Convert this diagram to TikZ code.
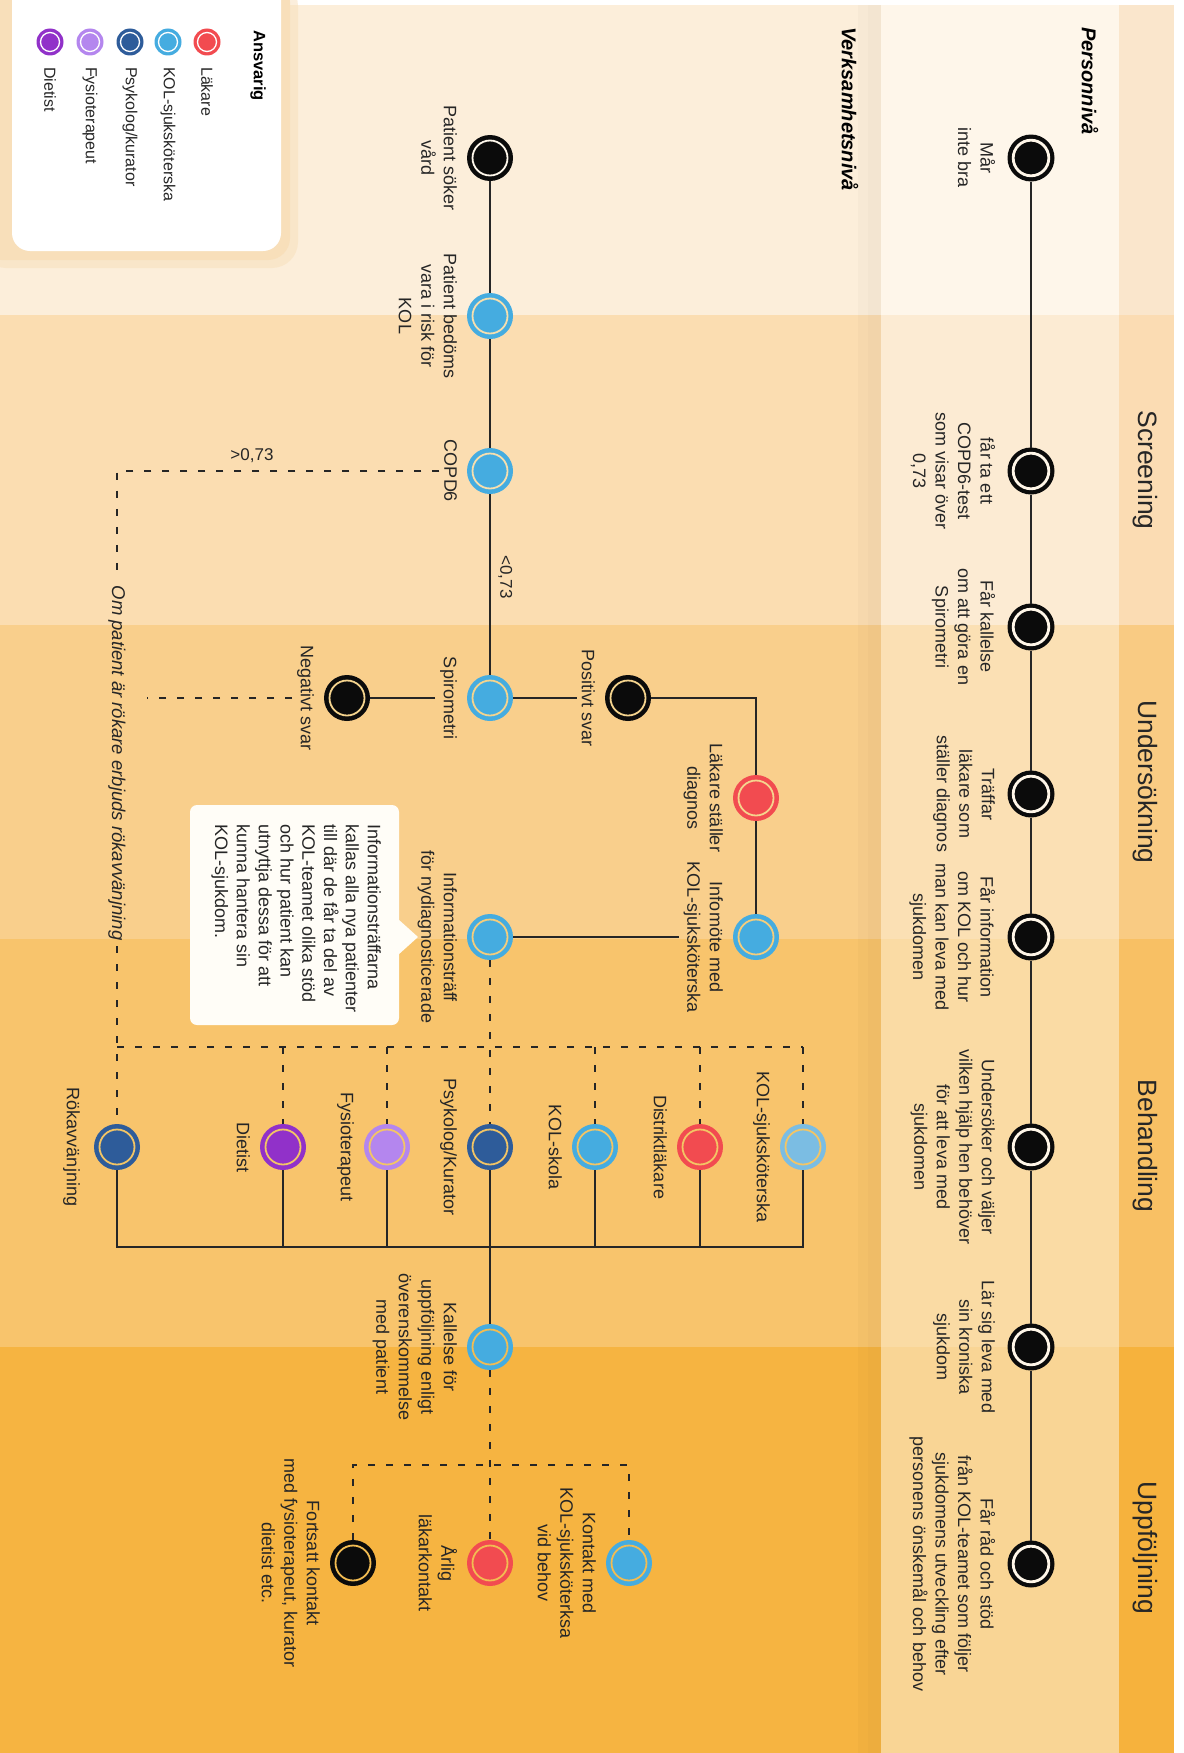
\documentclass[tikz,border=0pt]{standalone}
\usepackage{fontspec}
\setmainfont{Liberation Sans}

% background bands: left area, person panel, phase header column
\definecolor{bandA}{HTML}{FCEEDA}
\definecolor{bandS}{HTML}{FBDDB1}
\definecolor{bandU}{HTML}{F9CF8C}
\definecolor{bandB}{HTML}{F8C46C}
\definecolor{bandF}{HTML}{F6B441}
\definecolor{panA}{HTML}{FEF6EA}
\definecolor{panS}{HTML}{FCEBD3}
\definecolor{panU}{HTML}{FBE0B4}
\definecolor{panB}{HTML}{FADBA4}
\definecolor{panF}{HTML}{F9D595}
\definecolor{hdA}{HTML}{FAE6CC}
\definecolor{hdS}{HTML}{FBDCB3}
\definecolor{hdU}{HTML}{F9CB83}
\definecolor{hdB}{HTML}{F8C064}
\definecolor{hdF}{HTML}{F6B23D}
\definecolor{halo}{HTML}{F8DFBA}
\definecolor{callfill}{HTML}{FFFDF7}
% role colours
\definecolor{nblack}{HTML}{0B0B0B}
\definecolor{cblue}{HTML}{45ACE0}
\definecolor{clblue}{HTML}{7BBDE3}
\definecolor{cred}{HTML}{F24B50}
\definecolor{cdblue}{HTML}{2E5C9A}
\definecolor{clav}{HTML}{B486EE}
\definecolor{cpurp}{HTML}{9131C9}
% inner ring colours
\definecolor{ringP}{HTML}{FFF6E8}
\definecolor{ringA}{HTML}{FFF8EC}
\definecolor{ringS}{HTML}{F7DFAE}
\definecolor{ringU}{HTML}{F5D48E}
\definecolor{ringUB}{HTML}{F5CD7C}
\definecolor{ringB}{HTML}{F3C565}
\definecolor{ringF}{HTML}{F2BC52}
\definecolor{ink}{HTML}{262626}

\begin{document}
\begin{tikzpicture}[
  x=1pt, y=-1pt,
  stage/.style 2 args={circle, minimum size=46pt, inner sep=0pt, outer sep=0pt, fill=#1,
     path picture={\draw[#2, line width=1.8pt] (path picture bounding box.center) circle (17.5pt);}},
  pstage/.style={circle, minimum size=47pt, inner sep=0pt, outer sep=0pt, fill=nblack,
     path picture={\draw[ringP, line width=2.8pt] (path picture bounding box.center) circle (17.8pt);}},
  legdot/.style={circle, minimum size=27pt, inner sep=0pt, fill=#1,
     path picture={\draw[white, line width=1.3pt] (path picture bounding box.center) circle (9.5pt);}},
  lbl/.style={rotate=-90, anchor=north, align=center, inner sep=0pt, outer sep=5pt,
     font=\fontsize{18}{22.5}\selectfont, text=ink},
  leglbl/.style={rotate=-90, anchor=west, inner sep=0pt, font=\fontsize{16}{19}\selectfont, text=ink},
  phase/.style={rotate=-90, inner sep=0pt, font=\fontsize{26.5}{30}\selectfont, text=ink},
  level/.style={rotate=-90, anchor=west, inner sep=0pt, font=\fontsize{20}{24}\selectfont\bfseries\itshape, text=black},
  flow/.style={draw=ink, line width=2.2pt},
  optional/.style={draw=ink, line width=2.4pt, dash pattern=on 7pt off 11pt},
]
\useasboundingbox (0,0) rectangle (1183,1753);

% ---------- background bands ----------
\foreach \ya/\cl/\cp/\ch in {0/bandA/panA/hdA, 315/bandS/panS/hdS, 625/bandU/panU/hdU,
                             939/bandB/panB/hdB, 1347/bandF/panF/hdF} {
  \fill[\cl] (0,\ya) rectangle (881,1753);
  \fill[\cp] (881,\ya) rectangle (1119,1753);
  \fill[\ch] (1119,\ya) rectangle (1174,1753);
}
% soft shadow beside the person panel
\fill[black, opacity=0.02] (858,0) rectangle (881,1753);
\fill[black, opacity=0.015] (868,0) rectangle (881,1753);
\fill[white] (1174,0) rectangle (1183,1753);
\fill[white] (0,0) rectangle (1183,5);

% ---------- legend ----------
\fill[halo, opacity=0.5, rounded corners=26pt] (-20,-20) rectangle (298,268);
\fill[halo, rounded corners=22pt] (-20,-20) rectangle (290,260);
\fill[white, rounded corners=18pt] (12,-20) rectangle (281,251);
\node[rotate=-90, anchor=west, inner sep=0pt, font=\fontsize{16.5}{20}\selectfont\bfseries, text=black] (ansv) at (258,30) {Ansvarig};
\node[legdot=cred]   (lg1) at (207,42) {};
\node[legdot=cblue]  (lg2) at (168,42) {};
\node[legdot=cdblue] (lg3) at (130,42) {};
\node[legdot=clav]   (lg4) at (90,42) {};
\node[legdot=cpurp]  (lg5) at (50,42) {};
\node[leglbl] (lt1) at (207,67) {Läkare};
\node[leglbl] (lt2) at (168,67) {KOL-sjuksköterska};
\node[leglbl] (lt3) at (130,67) {Psykolog/kurator};
\node[leglbl] (lt4) at (90,67) {Fysioterapeut};
\node[leglbl] (lt5) at (50,67) {Dietist};

% ---------- headings ----------
\node[level] (lvP) at (1090,27) {Personnivå};
\node[level] (lvV) at (850,27) {Verksamhetsnivå};
\node[phase] (hs) at (1145,470) {Screening};
\node[phase] (hu) at (1145,782) {Undersökning};
\node[phase] (hb) at (1145,1146) {Behandling};
\node[phase] (hf) at (1145,1548) {Uppföljning};

% ---------- person level ----------
\node[pstage] (p1) at (1031,158) {};
\node[pstage] (p2) at (1031,471) {};
\node[pstage] (p3) at (1031,627) {};
\node[pstage] (p4) at (1031,794) {};
\node[pstage] (p5) at (1031,937) {};
\node[pstage] (p6) at (1031,1147) {};
\node[pstage] (p7) at (1031,1347) {};
\node[pstage] (p8) at (1031,1564) {};
\foreach \a/\b in {p1/p2,p2/p3,p3/p4,p4/p5,p5/p6,p6/p7,p7/p8}
  \draw[flow] (\a) -- (\b);
\node[lbl] (lp1) at (1000,158) {Mår\\inte bra};
\node[lbl] (lp2) at (1000,471) {får ta ett\\COPD6-test\\som visar över\\0,73};
\node[lbl] (lp3) at (1000,627) {Får kallelse\\om att göra en\\Spirometri};
\node[lbl] (lp4) at (1000,794) {Träffar\\läkare som\\ställer diagnos};
\node[lbl] (lp5) at (1000,937) {Får information\\om KOL och hur\\man kan leva med\\sjukdomen};
\node[lbl] (lp6) at (1000,1147) {Undersöker och väljer\\vilken hjälp hen behöver\\för att leva med\\sjukdomen};
\node[lbl] (lp7) at (1000,1347) {Lär sig leva med\\sin kroniska\\sjukdom};
\node[lbl] (lp8) at (1000,1564) {Får råd och stöd\\från KOL-teamet som följer\\sjukdomens utveckling efter\\personens önskemål och behov};

% ---------- care organisation level ----------
\node[stage={nblack}{ringA}]  (v1)    at (490,158) {};
\node[stage={cblue}{ringS}]   (v2)    at (490,316) {};
\node[stage={cblue}{ringS}]   (copd)  at (490,471) {};
\node[stage={cblue}{ringU}]   (spiro) at (490,698) {};
\node[stage={nblack}{ringU}]  (pos)   at (628,698) {};
\node[stage={nblack}{ringU}]  (neg)   at (347,698) {};
\node[stage={cred}{ringU}]    (lak)   at (756,798) {};
\node[stage={cblue}{ringUB}]  (infm)  at (756,937) {};
\node[stage={cblue}{ringUB}]  (itraff) at (490,937) {};

\node[lbl] (lv1)    at (462,158) {Patient söker\\vård};
\node[lbl] (lv2)    at (462,316) {Patient bedöms\\vara i risk för\\KOL};
\node[lbl] (lcopd)  at (462,471) {COPD6};
\node[lbl] (lspiro) at (462,698) {Spirometri};
\node[lbl] (lpos)   at (600,698) {Positivt svar};
\node[lbl] (lneg)   at (319,698) {Negativt svar};
\node[lbl] (llak)   at (728,798) {Läkare ställer\\diagnos};
\node[lbl] (linfm)  at (728,937) {Infomöte med\\KOL-sjuksköterska};
\node[lbl] (litraff) at (462,937) {Informationsträff\\för nydiagnosticerade};

\node[font=\fontsize{17}{20}\selectfont, text=ink, inner sep=0pt] (gt) at (252,456) {>0,73};
\node[rotate=-90, anchor=south, inner sep=0pt, font=\fontsize{17}{20}\selectfont, text=ink] (lt) at (498,577) {<0,73};
\node[rotate=-90, inner sep=0pt, outer sep=6pt, font=\fontsize{18.5}{22}\selectfont\itshape, text=ink] (lom) at (117,763) {Om patient är rökare erbjuds rökavvänjning};

% callout with information text
\fill[callfill, rounded corners=7pt] (190,805) rectangle (399,1025);
\fill[callfill] (398,919) -- (418,937) -- (398,955) -- cycle;
\node[rotate=-90, anchor=north west, align=left, inner sep=0pt, font=\fontsize{18}{21.8}\selectfont, text=ink] (callt) at (381,824)
  {Informationsträffarna\\kallas alla nya patienter\\till där de får ta del av\\KOL-teamet olika stöd\\och hur patient kan\\utnyttja dessa för att\\kunna hantera sin\\KOL-sjukdom.};

% treatment row
\node[stage={clblue}{ringB}] (ksk)   at (803,1147) {};
\node[stage={cred}{ringB}]   (dist)  at (700,1147) {};
\node[stage={cblue}{ringB}]  (skola) at (595,1147) {};
\node[stage={cdblue}{ringB}] (psyk)  at (490,1147) {};
\node[stage={clav}{ringB}]   (fys)   at (387,1147) {};
\node[stage={cpurp}{ringB}]  (diet)  at (283,1147) {};
\node[stage={cdblue}{ringB}] (rok)   at (117,1147) {};
\node[lbl] (lksk)   at (775,1147) {KOL-sjuksköterska};
\node[lbl] (ldist)  at (672,1147) {Distriktläkare};
\node[lbl] (lskola) at (567,1147) {KOL-skola};
\node[lbl] (lpsyk)  at (462,1147) {Psykolog/Kurator};
\node[lbl] (lfys)   at (359,1147) {Fysioterapeut};
\node[lbl] (ldiet)  at (255,1147) {Dietist};
\node[lbl] (lrok)   at (85,1147) {Rökavvänjning};

% follow-up
\node[stage={cblue}{ringF}]  (kall)  at (490,1347) {};
\node[stage={cblue}{ringF}]  (kont)  at (629,1563) {};
\node[stage={cred}{ringF}]   (arlig) at (490,1563) {};
\node[stage={nblack}{ringF}] (fort)  at (353,1563) {};
\node[lbl] (lkall)  at (462,1347) {Kallelse för\\uppföljning enligt\\överenskommelse\\med patient};
\node[lbl] (lkont)  at (601,1563) {Kontakt med\\KOL-sjuksköterksa\\vid behov};
\node[lbl] (larlig) at (462,1563) {Årlig\\läkarkontakt};
\node[lbl] (lfort)  at (325,1563) {Fortsatt kontakt\\med fysioterapeut, kurator\\dietist etc.};

% bus coordinates
\coordinate (negend) at (147,698);
\coordinate (dbusL) at (117,1047);
\coordinate (dbusR) at (803,1047);
\coordinate (sbusL) at (117,1247);
\coordinate (sbusR) at (803,1247);
\coordinate (ubus) at (490,1465);

% ---------- connectors ----------
\draw[flow] (v1) -- (v2);
\draw[flow] (v2) -- (copd);
\draw[flow] (copd) -- (spiro);
\draw[flow] (spiro) -- (lpos.south);
\draw[flow] (lspiro.south) -- (neg);
\draw[flow] (pos) -| (lak);
\draw[flow] (lak) -- (infm);
\draw[flow] (itraff) -- (linfm.south);

\draw[optional] (lcopd.south) -| (lom.west);
\draw[optional] (lom.east) -- (rok);
\draw[optional] (lneg.south) -- (negend);
\draw[optional] (dbusL) -- (dbusR);
\draw[optional] (itraff) -- (psyk);
\foreach \n in {ksk,dist,skola,fys,diet}
  \draw[optional] (\n |- dbusR) -- (\n);

\draw[flow] (rok) -- (sbusL) -- (sbusR) -- (ksk);
\foreach \n in {dist,skola,fys,diet}
  \draw[flow] (\n) -- (\n |- sbusL);
\draw[flow] (psyk) -- (kall);

\draw[optional] (kall) -- (arlig);
\draw[optional] (fort) -- (fort |- ubus) -- (kont |- ubus) -- (kont);
\end{tikzpicture}
\end{document}
